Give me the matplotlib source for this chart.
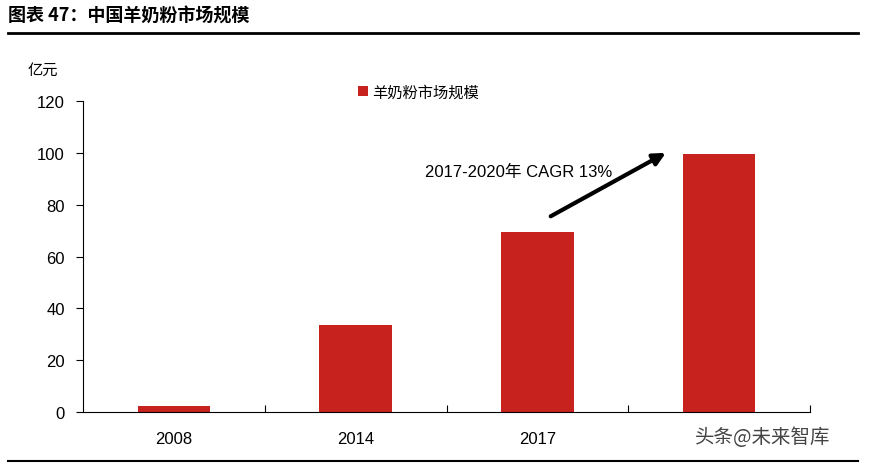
import matplotlib
matplotlib.use("Agg")
import matplotlib.pyplot as plt
from matplotlib.lines import Line2D

plt.rcParams['font.family'] = ['Liberation Sans', 'Noto Sans CJK SC', 'DejaVu Sans']

years = ["2008", "2014", "2017", "2020"]
values = [2.5, 33.5, 69.5, 99.5]
yticks = [0, 20, 40, 60, 80, 100, 120]
red = "#C8221E"

W, H = 869, 464
fig = plt.figure(figsize=(W/100, H/100), dpi=100)
ax = fig.add_axes([83/W, 1-413/H, (810-83)/W, (413-102)/H])
x = list(range(len(years)))
ax.bar(x, values, width=0.4, color=red, label="羊奶粉市场规模")
ax.set_xlim(-0.5, 3.5)
ax.set_ylim(0, 120)
ax.set_yticks(yticks)
ax.set_yticklabels([str(v) for v in yticks], fontsize=12)
ax.set_xticks([0.5, 1.5, 2.5, 3.5])
ax.set_xticklabels([])
ax.set_xticks(x, minor=True)
ax.set_xticklabels(years, minor=True, fontsize=12)
ax.tick_params(axis='x', which='minor', length=0, pad=14)
ax.tick_params(axis='x', which='major', length=5, direction='in')
ax.tick_params(axis='y', length=5, direction='out', pad=8)
for s in ['top', 'right']:
    ax.spines[s].set_visible(False)
ax.legend(loc='upper left', bbox_to_anchor=(0.36, 1.1), frameon=False,
          handlelength=0.6, handleheight=0.6, handletextpad=0.3,
          prop={'family': ['Noto Sans CJK SC'], 'size': 11})

ax.annotate("", xy=(2.72, 100.5), xytext=(2.06, 75),
            arrowprops=dict(arrowstyle='-|>', color='black', lw=3, mutation_scale=18))
ax.text(1.38, 91, "2017-2020年 CAGR 13%", fontsize=12,
        family=['Liberation Sans', 'Noto Sans CJK SC'])

fig.text(8/W, 1-16/H, "图表 47：中国羊奶粉市场规模", fontsize=13, fontweight='bold',
         va='center', family=['Noto Sans CJK SC'])
fig.add_artist(Line2D([8/W, 858/W], [1-34/H, 1-34/H], color='black', lw=2))
fig.add_artist(Line2D([8/W, 858/W], [1-462/H, 1-462/H], color='black', lw=1.5))
fig.text(28/W, 1-70/H, "亿元", fontsize=11, va='center', family=['Noto Sans CJK SC'])
fig.text(695/W, 1-438/H, "头条@未来智库", fontsize=14, ha='left', va='center',
         color='#444444', family=['Noto Sans CJK SC'],
         bbox=dict(facecolor='white', edgecolor='none', pad=4))
fig.savefig("out.png", dpi=100)
